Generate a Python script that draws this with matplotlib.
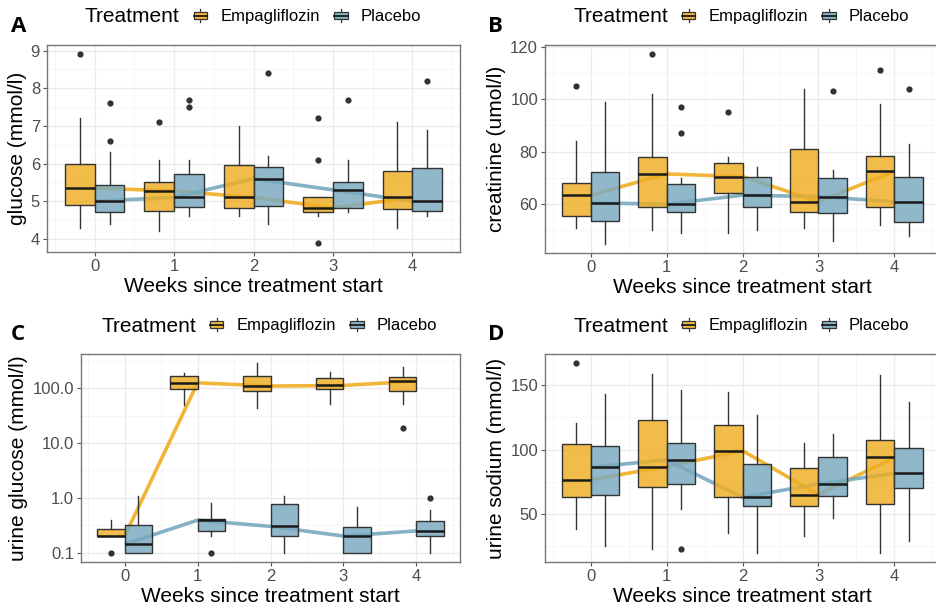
import matplotlib
matplotlib.use("Agg")
import matplotlib.pyplot as plt
from matplotlib.legend_handler import HandlerBase
from matplotlib.patches import Rectangle, Patch
from matplotlib.lines import Line2D
from matplotlib.colors import to_rgba
from matplotlib.ticker import FixedLocator, NullFormatter
import numpy as np

plt.rcParams['font.family'] = ['Liberation Sans', 'DejaVu Sans']

# ---------------- data ----------------
weeks = [0, 1, 2, 3, 4]
groups = ["Empagliflozin", "Placebo"]

# A: glucose (mmol/l)
glu_emp_lo = [4.3, 4.2, 4.6, 4.6, 4.3]
glu_emp_q1 = [4.9, 4.75, 4.82, 4.7, 4.8]
glu_emp_med = [5.35, 5.27, 5.1, 4.82, 5.1]
glu_emp_q3 = [6.0, 5.52, 5.96, 5.1, 5.8]
glu_emp_hi = [7.2, 6.1, 7.0, 5.1, 7.1]
glu_emp_out = [[8.9], [7.1], [], [7.2, 6.1, 3.9], []]
glu_pla_lo = [4.4, 4.6, 4.4, 4.7, 4.6]
glu_pla_q1 = [4.7, 4.85, 4.88, 4.82, 4.73]
glu_pla_med = [5.0, 5.1, 5.6, 5.3, 5.0]
glu_pla_q3 = [5.43, 5.71, 5.91, 5.51, 5.88]
glu_pla_hi = [6.3, 6.1, 6.2, 6.1, 6.9]
glu_pla_out = [[7.6, 6.6], [7.7, 7.5], [8.4], [7.7], [8.2]]

# B: creatinine (umol/l)
cre_emp_lo = [51, 50, 49, 51, 52]
cre_emp_q1 = [55.5, 58.9, 64.3, 57, 58.9]
cre_emp_med = [63.4, 71.5, 70.5, 61, 72.5]
cre_emp_q3 = [68.2, 78.1, 75.5, 81, 78.2]
cre_emp_hi = [84, 102, 78, 104, 98]
cre_emp_out = [[105], [117], [95], [], [111]]
cre_pla_lo = [45, 49, 50, 46, 48]
cre_pla_q1 = [53.7, 57, 58.9, 56.5, 53.2]
cre_pla_med = [60.5, 60, 63.4, 62.9, 60.9]
cre_pla_q3 = [72.1, 67.6, 70.5, 69.9, 70.2]
cre_pla_hi = [99, 70, 74, 73, 83]
cre_pla_out = [[], [97, 87], [], [103], [104]]

# C: urine glucose (mmol/l), log scale
ugl_emp_lo = [0.2, 50, 44, 52, 52]
ugl_emp_q1 = [0.2, 97, 87, 97, 88]
ugl_emp_med = [0.2, 125, 109, 112, 134]
ugl_emp_q3 = [0.265, 170, 170, 150, 157]
ugl_emp_hi = [0.4, 188, 282, 196, 238]
ugl_emp_out = [[0.1], [], [], [], [19]]
ugl_pla_lo = [0.1, 0.2, 0.1, 0.1, 0.1]
ugl_pla_q1 = [0.1, 0.248, 0.2, 0.1, 0.2]
ugl_pla_med = [0.142, 0.39, 0.3, 0.2, 0.248]
ugl_pla_q3 = [0.32, 0.405, 0.78, 0.29, 0.37]
ugl_pla_hi = [1.08, 0.79, 1.08, 0.68, 0.59]
ugl_pla_out = [[], [0.1], [], [], [1.0]]

# D: urine sodium (mmol/l)
una_emp_lo = [38, 23, 35, 33, 20]
una_emp_q1 = [63, 71, 63.5, 56, 58]
una_emp_med = [76.7, 86.8, 99.2, 65, 94]
una_emp_q3 = [104, 122.8, 119.2, 85.8, 107.5]
una_emp_hi = [121, 159, 145, 105, 158]
una_emp_out = [[167], [], [], [], []]
una_pla_lo = [25, 54, 20, 47, 29]
una_pla_q1 = [65, 73.6, 56, 64, 70]
una_pla_med = [86.3, 92, 63, 73.3, 81.6]
una_pla_q3 = [103.1, 105.2, 88.6, 94, 101.3]
una_pla_hi = [143, 146, 127, 112, 137]
una_pla_out = [[], [23], [], [], []]

EMP_COL = '#F0AD22'
PLA_COL = '#78A9BF'

W, H = 937, 608
fig = plt.figure(figsize=(W / 100, H / 100), dpi=100)


def axes_px(l, t, r, b):
    return fig.add_axes([l / W, 1 - b / H, (r - l) / W, (b - t) / H])


class BoxHandler(HandlerBase):
    def create_artists(self, legend, orig_handle, xdescent, ydescent,
                       width, height, fontsize, trans):
        fc = orig_handle.get_facecolor()
        x0 = -xdescent + width * 0.05
        w = width * 0.9
        h = height * 0.5
        yc = -ydescent + height * 0.45
        y0 = yc - h / 2
        cx = x0 + w / 2
        r = Rectangle((x0, y0), w, h, facecolor=fc, edgecolor='#333333',
                      lw=0.9, transform=trans)
        m = Line2D([x0, x0 + w], [yc] * 2, color='#1A1A1A', lw=1.3,
                   transform=trans)
        wt = Line2D([cx, cx], [y0 + h, y0 + h + height * 0.22],
                    color='#333333', lw=0.9, transform=trans)
        wb = Line2D([cx, cx], [y0, y0 - height * 0.22], color='#333333',
                    lw=0.9, transform=trans)
        return [wt, wb, r, m]


def draw_panel(ax, emp, pla, ylabel, yticks, yticklabels, log=False):
    allvals = []
    for (lo, q1, med, q3, hi, out), off, col in (
            (emp, -0.1875, EMP_COL), (pla, 0.1875, PLA_COL)):
        stats = []
        for i in range(len(weeks)):
            stats.append(dict(whislo=lo[i], q1=q1[i], med=med[i], q3=q3[i],
                              whishi=hi[i], fliers=out[i]))
            allvals += [lo[i], hi[i]] + list(out[i])
        ax.plot(weeks, med, color=col, lw=2.6, alpha=0.9, zorder=2,
                solid_capstyle='butt')
        ax.bxp(stats, positions=[w + off for w in weeks], widths=0.375,
               patch_artist=True, showcaps=False, manage_ticks=False,
               boxprops=dict(facecolor=to_rgba(col, 0.82), edgecolor='#333333',
                             lw=1.0),
               medianprops=dict(color='#1A1A1A', lw=1.8),
               whiskerprops=dict(color='#333333', lw=1.0),
               flierprops=dict(marker='o', markerfacecolor='#333333',
                               markeredgecolor='none', markersize=4.5),
               zorder=3)
    lo_v, hi_v = min(allvals), max(allvals)
    if log:
        ax.set_yscale('log')
        a, b = np.log10(lo_v), np.log10(hi_v)
        e = 0.05 * (b - a)
        ax.set_ylim(10 ** (a - e), 10 ** (b + e))
        mids = [10 ** (np.log10(yticks[i]) + 0.5) for i in range(len(yticks))]
        mids = [10 ** (np.log10(yticks[0]) - 0.5)] + mids
        ax.yaxis.set_minor_locator(FixedLocator(mids))
        ax.yaxis.set_minor_formatter(NullFormatter())
    else:
        e = 0.05 * (hi_v - lo_v)
        ax.set_ylim(lo_v - e, hi_v + e)
        step = yticks[1] - yticks[0]
        mids = [yticks[0] - step / 2] + [t + step / 2 for t in yticks]
        ax.yaxis.set_minor_locator(FixedLocator(mids))
    ax.set_yticks(yticks)
    ax.set_yticklabels(yticklabels)
    ax.set_xlim(-0.6, 4.6)
    ax.set_xticks(weeks)
    ax.set_xticklabels([str(w) for w in weeks])
    ax.xaxis.set_minor_locator(FixedLocator([-0.5, 0.5, 1.5, 2.5, 3.5, 4.5]))
    ax.grid(True, which='major', color='#EBEBEB', lw=1.0, zorder=0)
    ax.grid(True, which='minor', color='#F4F4F4', lw=0.6, zorder=0)
    ax.set_axisbelow(True)
    ax.tick_params(which='major', length=3, width=0.8, color='#555555',
                   labelsize=12, labelcolor='#4D4D4D', pad=2)
    ax.tick_params(which='minor', length=0)
    for s in ax.spines.values():
        s.set_color('#767676')
        s.set_linewidth(1.0)
    ax.set_xlabel('Weeks since treatment start', fontsize=15, labelpad=2)
    ax.set_ylabel(ylabel, fontsize=15, labelpad=3)


def add_legend(title_x, key_x, yc, label, lab_x, lab_y):
    fig.text(title_x / W, 1 - yc / H, 'Treatment', fontsize=15,
             ha='left', va='center')
    handles = [Patch(facecolor=to_rgba(EMP_COL, 0.85)),
               Patch(facecolor=to_rgba(PLA_COL, 0.85))]
    fig.legend(handles=handles, labels=groups, ncol=2,
               handler_map={Patch: BoxHandler()}, frameon=False,
               loc='center left', bbox_to_anchor=(key_x / W, 1 - (yc - 1) / H),
               fontsize=12, handlelength=0.9, handleheight=0.9,
               handletextpad=0.75, columnspacing=0.8, borderpad=0,
               borderaxespad=0)
    fig.text(lab_x / W, 1 - lab_y / H, label, fontsize=16, fontweight='bold',
             ha='left', va='center', family=['Open Sans', 'DejaVu Sans'])


axA = axes_px(47, 45, 460, 252)
draw_panel(axA, (glu_emp_lo, glu_emp_q1, glu_emp_med, glu_emp_q3, glu_emp_hi, glu_emp_out),
           (glu_pla_lo, glu_pla_q1, glu_pla_med, glu_pla_q3, glu_pla_hi, glu_pla_out),
           'glucose (mmol/l)', [4, 5, 6, 7, 8, 9], ['4', '5', '6', '7', '8', '9'])
add_legend(85, 193, 17, 'A', 11, 27)

axB = axes_px(545, 45, 940, 253)
draw_panel(axB, (cre_emp_lo, cre_emp_q1, cre_emp_med, cre_emp_q3, cre_emp_hi, cre_emp_out),
           (cre_pla_lo, cre_pla_q1, cre_pla_med, cre_pla_q3, cre_pla_hi, cre_pla_out),
           'creatinine (umol/l)', [60, 80, 100, 120], ['60', '80', '100', '120'])
add_legend(573, 681, 17, 'B', 488, 26)

axC = axes_px(81, 354, 460, 562)
draw_panel(axC, (ugl_emp_lo, ugl_emp_q1, ugl_emp_med, ugl_emp_q3, ugl_emp_hi, ugl_emp_out),
           (ugl_pla_lo, ugl_pla_q1, ugl_pla_med, ugl_pla_q3, ugl_pla_hi, ugl_pla_out),
           'urine glucose (mmol/l)', [0.1, 1, 10, 100],
           ['0.1', '1.0', '10.0', '100.0'], log=True)
add_legend(102, 209, 326, 'C', 11, 335)

axD = axes_px(545, 354, 940, 562)
draw_panel(axD, (una_emp_lo, una_emp_q1, una_emp_med, una_emp_q3, una_emp_hi, una_emp_out),
           (una_pla_lo, una_pla_q1, una_pla_med, una_pla_q3, una_pla_hi, una_pla_out),
           'urine sodium (mmol/l)', [50, 100, 150], ['50', '100', '150'])
add_legend(573, 681, 326, 'D', 488, 335)

fig.savefig('out.png', dpi=100)
